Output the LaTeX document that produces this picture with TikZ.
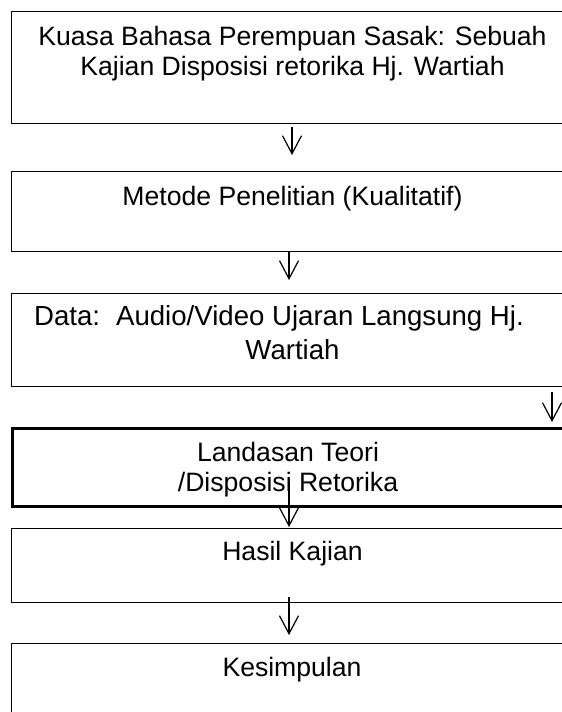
\documentclass[tikz,border=0pt]{standalone}
\usepackage{fontspec}
\setmainfont{Liberation Sans}
\usetikzlibrary{arrows.meta}

\tikzset{
  stepbox/.style={draw, line width=0.6pt, anchor=north west, inner sep=0pt,
    minimum width=281.5pt},
  thickbox/.style={stepbox, line width=1.3pt},
  boxtext/.style={anchor=north, inner sep=0pt, align=center,
    font=\fontsize{13.3pt}{16pt}\selectfont}
}

\begin{document}
\begin{tikzpicture}[x=0.5pt,y=-0.5pt,
    -{Straight Barb[length=9pt,width=9.5pt,line width=0.6pt]},line width=0.6pt]
   \clip (0,0) rectangle (562,712);

   \node[stepbox, minimum height=56pt] (b1) at (11,11) {};
   \node[stepbox, minimum height=40pt] (b2) at (11,171) {};
   \node[stepbox, minimum height=46.5pt] (b3) at (11,293) {};
   \node[thickbox, minimum height=39pt] (b4) at (11,427) {};
   \node[stepbox, minimum height=37pt] (b5) at (11,528) {};
   \node[stepbox, minimum height=60pt] (b6) at (11,643) {};

   \node[boxtext, font=\fontsize{13.3pt}{15pt}\selectfont] (t1) at (292.5,25.5) {Kuasa Bahasa Perempuan Sasak: Sebuah\\Kajian Disposisi retorika Hj. Wartiah};
   \node[boxtext] (t2) at (292.5,185.5) {Metode Penelitian (Kualitatif)};
   \node[boxtext, font=\fontsize{13.8pt}{17pt}\selectfont] (t3) at (292.5,304.8) {Data:\hspace{8pt}Audio/Video Ujaran Langsung Hj.\hspace*{13.5pt}\\Wartiah};
   \node[boxtext, font=\fontsize{13.3pt}{15pt}\selectfont] (t4) at (288,441.5) {Landasan Teori\\/Disposisi Retorika};
   \node[boxtext] (t5) at (292.5,540.5) {Hasil Kajian};
   \node[boxtext] (t6) at (292,656.5) {Kesimpulan};

   \coordinate (s1) at (292,127);
   \coordinate (e1) at (292,155);
   \coordinate (s2) at (289,252);
   \coordinate (e2) at (289,280);
   \coordinate (s3) at (552,392);
   \coordinate (e3) at (552,422);
   \coordinate (s4) at (289,482);
   \coordinate (e4) at (289,527);
   \coordinate (s5) at (289,597);
   \coordinate (e5) at (289,635);

   \path (s1) edge (e1);
   \path (s2) edge (e2);
   \path (s3) edge (e3);
   \path (s4) edge (e4);
   \path (s5) edge (e5);

\end{tikzpicture}
\end{document}
